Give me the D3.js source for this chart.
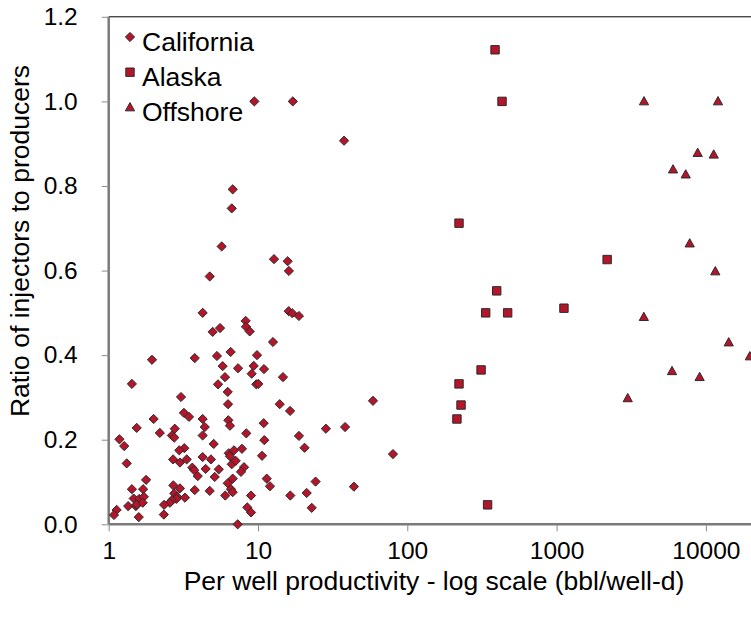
<!DOCTYPE html>
<html>
<head>
<meta charset="utf-8">
<script src="https://cdn.jsdelivr.net/npm/d3@7"></script>
<style>
  body { margin: 0; background: #fff; }
  text { font-family: "Liberation Sans", Arial, Helvetica, sans-serif; fill: #000; }
</style>
</head>
<body>
<svg id="chart"></svg>
<script>
// data: [bbl/well-d, injectors per producer]
const california = [
  [9.45, 1.0], [17.1, 1.0], [37.7, 0.907], [6.77, 0.792], [6.67, 0.747], [5.71, 0.657],
  [12.8, 0.627], [15.8, 0.622], [16.1, 0.599], [4.75, 0.586], [4.26, 0.50], [16.06, 0.504],
  [16.97, 0.499], [18.8, 0.4925], [8.27, 0.481], [8.31, 0.467], [8.80, 0.456], [5.57, 0.464],
  [4.97, 0.455], [12.6, 0.431], [6.56, 0.4075], [9.85, 0.40], [5.31, 0.398], [3.77, 0.393],
  [1.95, 0.389], [5.80, 0.374], [7.35, 0.369], [9.36, 0.3745], [10.97, 0.367], [9.07, 0.356],
  [6.01, 0.348], [14.7, 0.348], [1.43, 0.332], [5.40, 0.331], [9.74, 0.331], [10.05, 0.332],
  [6.27, 0.313], [3.05, 0.301], [6.30, 0.284], [13.98, 0.284], [16.4, 0.268], [3.19, 0.2635],
  [3.45, 0.254], [4.26, 0.249], [6.33, 0.246], [6.49, 0.233], [4.40, 0.230], [10.92, 0.239],
  [2.00, 0.249], [1.54, 0.228], [2.20, 0.216], [8.35, 0.215], [2.77, 0.226], [2.65, 0.210],
  [2.75, 0.205], [4.26, 0.210], [11.02, 0.199], [1.18, 0.201], [1.27, 0.185], [5.05, 0.190],
  [3.21, 0.180], [2.97, 0.175], [6.37, 0.168], [6.91, 0.175], [6.49, 0.161], [7.81, 0.1785],
  [10.64, 0.162], [1.32, 0.144], [2.70, 0.1535], [3.00, 0.146], [3.33, 0.1535], [4.26, 0.159],
  [4.84, 0.1535], [6.67, 0.142], [7.09, 0.150], [8.06, 0.135], [3.63, 0.134], [3.74, 0.128],
  [4.46, 0.131], [5.46, 0.130], [7.69, 0.124], [3.95, 0.114], [5.13, 0.112], [6.77, 0.108],
  [11.44, 0.108], [12.03, 0.090], [1.78, 0.105], [6.27, 0.097], [1.43, 0.083], [1.70, 0.083],
  [2.71, 0.092], [3.00, 0.085], [3.77, 0.081], [4.75, 0.079], [6.59, 0.083], [6.77, 0.076],
  [2.75, 0.073], [2.88, 0.065], [2.84, 0.060], [2.65, 0.057], [2.57, 0.051], [3.24, 0.063],
  [1.47, 0.061], [1.60, 0.060], [1.72, 0.065], [6.04, 0.068], [8.98, 0.068], [1.35, 0.043],
  [1.52, 0.043], [1.54, 0.047], [2.35, 0.046], [1.69, 0.051], [8.48, 0.040], [8.98, 0.028],
  [1.13, 0.034], [1.085, 0.022], [1.59, 0.017], [2.34, 0.023], [7.31, 0.0], [16.46, 0.068],
  [58.9, 0.292], [18.8, 0.209], [20.5, 0.181], [28.5, 0.226], [38.3, 0.230], [80.2, 0.166],
  [24.3, 0.101], [43.9, 0.089], [21.2, 0.074], [22.9, 0.039]
];

const alaska = [
  [387, 1.122], [431, 1.0], [222, 0.712], [2180, 0.626], [397, 0.552], [335, 0.50],
  [470, 0.50], [1120, 0.511], [312, 0.365], [222, 0.332], [229, 0.282], [215, 0.249],
  [345, 0.046]
];

const offshore = [
  [3850, 1.0], [12050, 1.0], [8810, 0.878], [11280, 0.874], [6025, 0.839], [7325, 0.827],
  [7790, 0.664], [11560, 0.598], [3840, 0.49], [14220, 0.43], [19700, 0.397], [5930, 0.362],
  [9080, 0.348], [2995, 0.298]
];

const seriesNames = ['California', 'Alaska', 'Offshore'];
const xTicks = [1, 10, 100, 1000, 10000];
const yTicks = [0, 0.2, 0.4, 0.6, 0.8, 1.0, 1.2];

const width = 751, height = 618;
const svg = d3.select('#chart').attr('width', width).attr('height', height);

// plot box; the right side runs past the picture edge like in the reference
const plotLeft = 108.7, plotBottom = 524.3, plotTop = 16.8, decade = 149.3;

const x = d3.scaleLog().domain([1, 100000]).range([plotLeft, plotLeft + 5 * decade]);
const y = d3.scaleLinear().domain([0, 1.2]).range([plotBottom, plotTop]);

const fill = '#b5152b';
const edge = '#2a2a2a';

// marker shapes
const diamond = r => `M0,${-r}L${r},0L0,${r}L${-r},0Z`;
const square = r => `M${-r},${-r}H${r}V${r}H${-r}Z`;
const triangle = r => `M0,${-r * 1.05}L${r},${r * 0.75}L${-r},${r * 0.75}Z`;
const shapes = [diamond(4.6), square(4.2), triangle(4.6)];

// top frame line
svg.append('line')
    .attr('x1', plotLeft).attr('x2', width)
    .attr('y1', plotTop).attr('y2', plotTop)
    .attr('stroke', '#000').attr('stroke-width', 1);

// axes
const xAxis = svg.append('g')
    .attr('transform', `translate(0,${plotBottom})`)
    .call(d3.axisBottom(x).tickValues(xTicks).tickFormat(d3.format('d')).tickSize(7).tickPadding(10));
const yAxis = svg.append('g')
    .attr('transform', `translate(${plotLeft},0)`)
    .call(d3.axisLeft(y).tickValues(yTicks).tickFormat(d3.format('.1f')).tickSize(7).tickPadding(24));

[xAxis, yAxis].forEach(g => {
    g.select('.domain').attr('stroke', '#7a7a7a').attr('stroke-width', 2.5);
    g.selectAll('.tick line').attr('stroke', '#8c8c8c').attr('stroke-width', 1);
    g.selectAll('.tick text').attr('font-size', 24.5).attr('fill', '#000')
        .style('font-family', '"Liberation Sans", Arial, sans-serif');
});
xAxis.select('.domain').attr('d', `M${plotLeft},0H${width + 5}`);
yAxis.select('.domain').attr('d', `M0,${plotBottom}V${plotTop}`);

// points
const groups = [california, alaska, offshore];
groups.forEach((data, i) => {
    svg.append('g').selectAll('path').data(data).join('path')
        .attr('transform', d => `translate(${x(d[0])},${y(d[1])})`)
        .attr('d', shapes[i])
        .attr('fill', fill)
        .attr('stroke', edge)
        .attr('stroke-width', 1);
});

// legend
const legend = svg.append('g').attr('transform', 'translate(130,37)');
seriesNames.forEach((name, i) => {
    const row = legend.append('g').attr('transform', `translate(0,${i * 35.2})`);
    row.append('path').attr('d', shapes[i])
        .attr('fill', fill).attr('stroke', edge).attr('stroke-width', 1);
    row.append('text').attr('x', 12).attr('y', 13.5).attr('font-size', 26.5).text(name);
});

// axis titles
svg.append('text')
    .attr('x', 434).attr('y', 590)
    .attr('text-anchor', 'middle').attr('font-size', 26.5)
    .text('Per well productivity - log scale (bbl/well-d)');

svg.append('text')
    .attr('transform', 'translate(29,241) rotate(-90)')
    .attr('text-anchor', 'middle').attr('font-size', 26.5)
    .text('Ratio of injectors to producers');
</script>
</body>
</html>
